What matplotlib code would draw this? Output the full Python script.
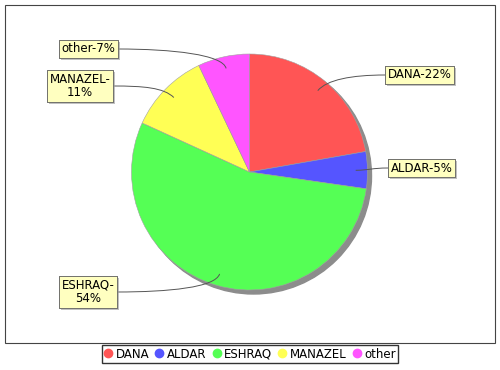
import numpy as np
import matplotlib
matplotlib.use('Agg')
import matplotlib.pyplot as plt
from matplotlib.patches import Circle, Rectangle, PathPatch
from matplotlib.path import Path
from matplotlib.lines import Line2D
import matplotlib.patheffects as pe

names = ['DANA', 'ALDAR', 'ESHRAQ', 'MANAZEL', 'other']
values = [22, 5, 54, 11, 7]
label_texts = ['DANA-22%', 'ALDAR-5%', 'ESHRAQ-\n54%', 'MANAZEL-\n11%', 'other-7%']
colors = ['#FF5555', '#5555FF', '#55FF55', '#FFFF55', '#FF55FF']

W, H = 500, 370
cx, cy, R = 249.5, H - 172, 118

# label anchor (box edge where the leader line meets), in image pixels (y down)
label_pos = [(385, 75, 'left'), (388, 168, 'left'), (117, 292, 'right'),
             (113, 86, 'right'), (118, 49, 'right')]


def main():
    fig = plt.figure(figsize=(5, 3.7), dpi=100)
    ax = fig.add_axes([0, 0, 1, 1])

    # plot border
    ax.add_patch(Rectangle((5, H - 343), 490, 338, fill=False,
                           edgecolor='#444444', lw=0.8, zorder=1))

    # pie shadow
    ax.add_patch(Circle((cx + 4, cy - 4), R, color='#8c8c8c', zorder=2))

    wedges, _ = ax.pie(values, colors=colors, startangle=90, counterclock=False,
                       center=(cx, cy), radius=R, frame=True,
                       wedgeprops=dict(edgecolor='#a0a0a0', linewidth=0.4))
    for w in wedges:
        w.set_zorder(3)

    total = float(sum(values))
    cum = np.cumsum([0] + values)
    for i, v in enumerate(values):
        mid = 90 - 360 * (cum[i] + v / 2.0) / total
        a = np.deg2rad(mid)
        ux, uy = np.cos(a), np.sin(a)
        p0 = (cx + 0.9 * R * ux, cy + 0.9 * R * uy)
        lx, ly, ha = label_pos[i]
        ly = H - ly
        p1 = (p0[0] + 0.12 * R * ux, p0[1] + 0.12 * R * uy)
        dx = -1 if ha == 'left' else 1
        p2 = (lx + dx * 0.5 * abs(lx - p0[0]), ly)
        path = Path([p0, p1, p2, (lx, ly)],
                    [Path.MOVETO, Path.CURVE4, Path.CURVE4, Path.CURVE4])
        ax.add_patch(PathPatch(path, fill=False, edgecolor='#555555', lw=0.7, zorder=4))
        tx = lx + (2.5 if ha == 'left' else -2.5)
        t = ax.text(tx, ly, label_texts[i], ha=ha, va='center', multialignment='center',
                    fontsize=8.5, zorder=5, linespacing=1.0,
                    bbox=dict(boxstyle='square,pad=0.22', facecolor='#FFFFC0',
                              edgecolor='#666666', lw=0.6))
        t.get_bbox_patch().set_path_effects([
            pe.withSimplePatchShadow(offset=(1.5, -1.5), shadow_rgbFace='#999999', alpha=0.6),
            pe.Normal()])

    handles = [Line2D([], [], marker='o', linestyle='none', markersize=6,
                      markerfacecolor=c, markeredgecolor=c) for c in colors]
    leg = ax.legend(handles, names, loc='center', bbox_to_anchor=(250, H - 354),
                    bbox_transform=ax.transData, ncol=5, fontsize=8.5, frameon=True,
                    fancybox=False, handlelength=0.7, handletextpad=0.3,
                    columnspacing=0.5, borderpad=0.2, borderaxespad=0)
    leg.get_frame().set_edgecolor('black')
    leg.get_frame().set_linewidth(1.0)

    ax.set_xlim(0, W)
    ax.set_ylim(0, H)
    ax.set_aspect('equal')
    ax.axis('off')
    fig.savefig('out.png', dpi=100, facecolor='white')


if __name__ == '__main__':
    main()
